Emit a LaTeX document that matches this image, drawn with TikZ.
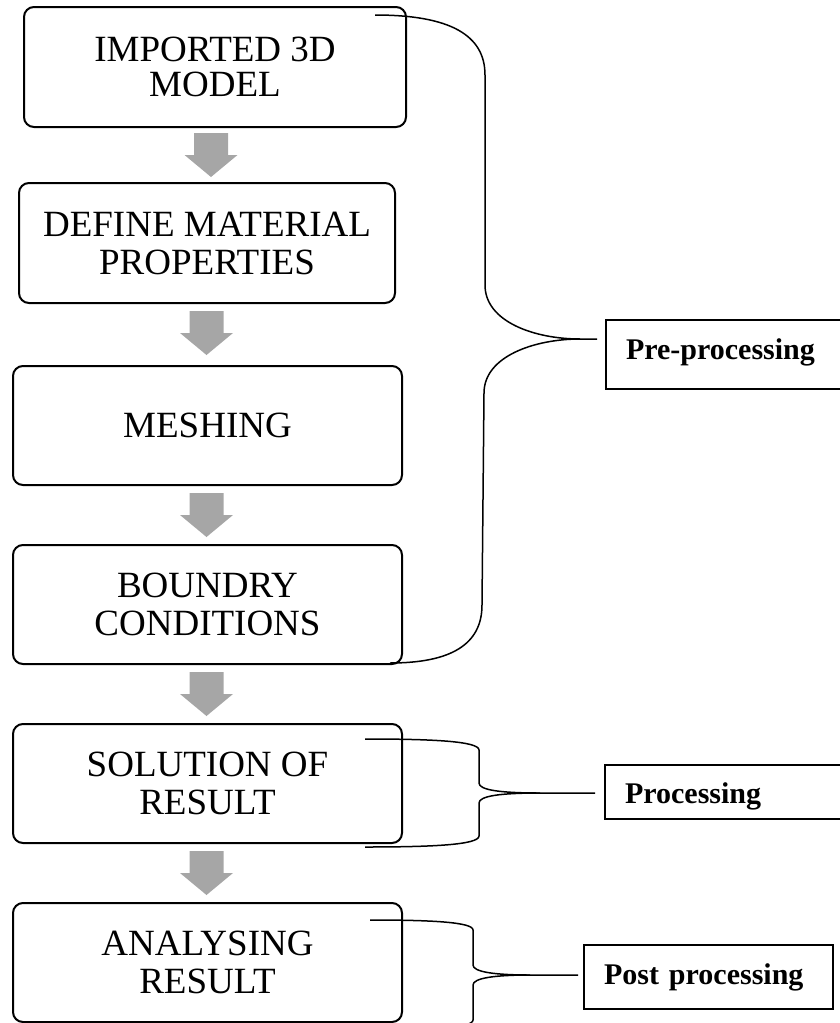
\documentclass[tikz,border=0pt]{standalone}
\usepackage{fontspec}
\setmainfont{Liberation Serif}
\definecolor{arrowgray}{HTML}{A6A6A6}
\tikzset{
  stepbox/.style={draw, line width=2pt, rounded corners=10pt, align=center, inner sep=0pt,
    font=\fontsize{37}{38}\selectfont},
  labelbox/.style={draw, line width=2pt, anchor=north west, inner ysep=0pt, inner xsep=20pt,
    align=left, font=\bfseries\fontsize{30}{36}\selectfont},
  bracepath/.style={line width=1.5pt, line join=round},
  blockarrow/.pic={\fill[arrowgray] (-17,0) -- (17,0) -- (17,22) -- (26.5,22) -- (0,44)
    -- (-26.5,22) -- (-17,22) -- cycle;}
}
\begin{document}
\begin{tikzpicture}[x=1pt,y=-1pt]
\useasboundingbox (0,0) rectangle (840,1023);
\clip (0,0) rectangle (840,1023);

% process boxes
\node[stepbox, minimum width=382pt, minimum height=120pt,
      font=\fontsize{37}{35}\selectfont] (b1) at (215,67) {IMPORTED 3D\\MODEL};
\node[stepbox, minimum width=376pt, minimum height=120pt] (b2) at (207,243) {DEFINE MATERIAL\\PROPERTIES};
\node[stepbox, minimum width=389pt, minimum height=119pt] (b3) at (207.5,425.5) {MESHING};
\node[stepbox, minimum width=389pt, minimum height=119pt] (b4) at (207.5,604.5) {BOUNDRY\\CONDITIONS};
\node[stepbox, minimum width=389pt, minimum height=119pt] (b5) at (207.5,783.5) {SOLUTION OF\\RESULT};
\node[stepbox, minimum width=389pt, minimum height=119pt] (b6) at (207.5,962.5) {ANALYSING\\RESULT};

% block arrows
\pic at (211,133) {blockarrow};
\pic at (206.5,311) {blockarrow};
\pic at (206.5,493) {blockarrow};
\pic at (206.5,672) {blockarrow};
\pic at (206.5,851) {blockarrow};

% label boxes
\node[labelbox, text width=200pt, text height=39pt, text depth=30pt] (pre) at (605,319) {Pre-processing};
\node[labelbox, text width=201pt, text height=38pt, text depth=16pt] (proc) at (604,764) {Processing};
\node[labelbox, text width=209pt, text height=39pt, text depth=25pt] (post) at (583,944) {Post processing};

% braces
\draw[bracepath] (375,15) .. controls (450,15) and (485,35) .. (485,75)
  -- (485,285) .. controls (485,322) and (535,339) .. (580,339) -- (597,339);
\draw[bracepath] (580,339) .. controls (535,339) and (484,356) .. (484,393)
  -- (482,605) .. controls (482,645) and (450,663) .. (390,663);

\draw[bracepath] (365,739) .. controls (430,739) and (479,741) .. (479,750)
  -- (479,783) .. controls (479,790) and (500,793) .. (540,793) -- (595,793);
\draw[bracepath] (540,793) .. controls (500,793) and (479,796) .. (479,803)
  -- (479,836) .. controls (479,845) and (430,847) .. (365,847);

\draw[bracepath] (370,920) .. controls (430,920) and (473,922) .. (473,930)
  -- (473,965) .. controls (473,972) and (495,975) .. (530,975) -- (578,975);
\draw[bracepath] (530,975) .. controls (495,975) and (473,978) .. (473,985)
  -- (473,1020) .. controls (473,1028) and (430,1030) .. (370,1030);
\end{tikzpicture}
\end{document}
